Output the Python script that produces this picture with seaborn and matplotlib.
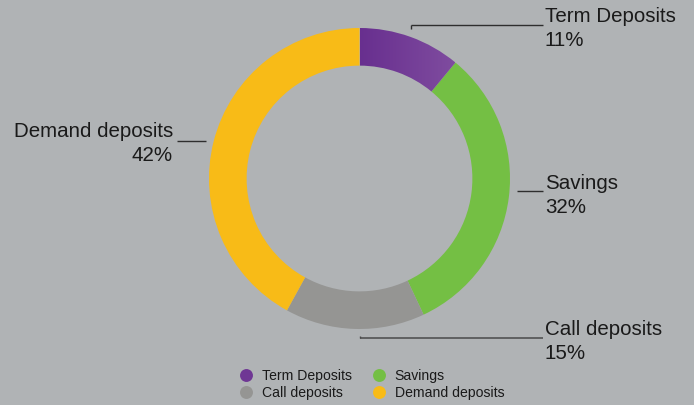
import numpy as np
import matplotlib
matplotlib.use("Agg")
import matplotlib.pyplot as plt
from matplotlib.colors import LinearSegmentedColormap
from matplotlib.lines import Line2D
import seaborn as sns

# Deposit mix
categories = ["Term Deposits", "Savings", "Call deposits", "Demand deposits"]
shares = [11, 32, 15, 42]
colors = ["#6f3794", "#74bf44", "#959593", "#f8bb17"]
purple_grad = ["#682f8f", "#7f4c9f"]

BG = "#b0b3b5"
W, H = 694, 405
DPI = 100

sns.set_theme(style="white")
plt.rcParams["font.family"] = ["Liberation Sans", "DejaVu Sans"]

fig = plt.figure(figsize=(W / DPI, H / DPI), dpi=DPI, facecolor=BG)

# Donut axes (pixel geometry -> figure fractions)
cx, cy, r = 359.5, 178.5, 150.5
ax = fig.add_axes([(cx - r) / W, (H - cy - r) / H, 2 * r / W, 2 * r / H])
ax.set_facecolor("none")
wedges, _ = ax.pie(shares, colors=colors, startangle=90, counterclock=False,
                   radius=1.0, wedgeprops=dict(width=0.25, edgecolor="none", linewidth=0))

# Horizontal purple gradient on the first wedge
cmap = LinearSegmentedColormap.from_list("term", purple_grad)
grad = np.linspace(0, 1, 256).reshape(1, -1)
wedges[0].set_facecolor("none")
img = ax.imshow(grad, cmap=cmap, extent=[0.0, 0.63, 0.4, 1.02], aspect="auto",
                origin="lower", zorder=wedges[0].get_zorder())
img.set_clip_path(wedges[0])
ax.set_xlim(-1, 1)
ax.set_ylim(-1, 1)
ax.set_aspect("equal")
ax.axis("off")

# Overlay in pixel coordinates for labels and leader lines
ov = fig.add_axes([0, 0, 1, 1])
ov.set_xlim(0, W)
ov.set_ylim(H, 0)
ov.axis("off")
ov.set_facecolor("none")

txt = dict(fontsize=14.8, color="#1a1a1a")
labels = {
    # name: (x, baseline y, ha)
    "Term Deposits": (545, 22, "left"),
    "Savings": (545, 189, "left"),
    "Call deposits": (545, 335, "left"),
    "Demand deposits": (173, 137, "right"),
}
for name, val in zip(categories, shares):
    x, y, ha = labels[name]
    ov.text(x, y, name, ha=ha, va="baseline", **txt)
    ov.text(x, y + 24, f"{val}%", ha=ha, va="baseline", **txt)

lc = "#2e2e2e"
ov.plot([411, 543], [25, 25], color=lc, lw=1.0, solid_capstyle="butt")
ov.plot([411, 411], [25, 28.5], color=lc, lw=1.0, solid_capstyle="butt")
ov.plot([517, 543], [190.5, 190.5], color=lc, lw=1.0, solid_capstyle="butt")
ov.plot([360, 543], [338, 338], color="#4a4a4a", lw=1.1, solid_capstyle="butt")
ov.plot([360, 360], [335.5, 338], color="#4a4a4a", lw=1.0, solid_capstyle="butt")
ov.plot([177, 206], [140.5, 140.5], color=lc, lw=1.0, solid_capstyle="butt")

# Legend: two rows (Term, Savings / Call, Demand); matplotlib fills column-wise
order = [0, 2, 1, 3]
handles = [Line2D([0], [0], marker="o", linestyle="none", markersize=9.3,
                  markerfacecolor=colors[i], markeredgecolor="none") for i in order]
leg = fig.legend(handles, [categories[i] for i in order], ncol=2, loc="upper left",
                 bbox_to_anchor=(239 / W, 1 - 369 / H), frameon=False,
                 fontsize=10.1, handlelength=1.0, handletextpad=0.62,
                 columnspacing=1.45, labelspacing=0.18, borderpad=0,
                 borderaxespad=0)
for t in leg.get_texts():
    t.set_color("#1a1a1a")

fig.savefig("out.png", dpi=DPI, facecolor=BG)
